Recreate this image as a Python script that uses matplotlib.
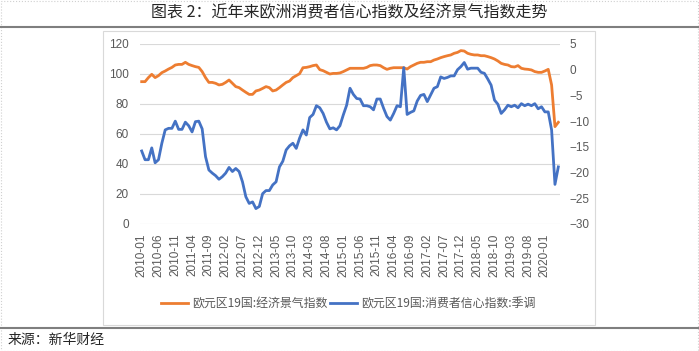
"""
Euro area economic sentiment vs consumer confidence, 2010-2020.
"""

import numpy as np
import pandas as pd
import matplotlib
matplotlib.use("Agg")
import matplotlib.pyplot as plt
from matplotlib.lines import Line2D
from matplotlib.patches import Rectangle

plt.rcParams['font.family'] = ['Noto Sans CJK SC', 'DejaVu Sans']

months = [str(p) for p in pd.period_range('2010-01', '2020-05', freq='M')]

# 欧元区19国:经济景气指数 (left axis)
esi = [94.9, 94.9, 97.6, 99.8, 97.6, 98.9, 100.9, 102.0, 103.3, 104.4,
       106.0, 106.4, 106.4, 107.8, 106.4, 105.6, 104.9, 104.4, 101.6, 97.6,
       94.4, 94.4, 93.8, 92.7, 93.1, 94.4, 96.0, 93.8, 91.6, 90.9,
       89.3, 87.8, 86.4, 86.4, 88.7, 89.3, 90.4, 91.6, 90.9, 88.7,
       89.3, 90.9, 92.7, 94.4, 95.3, 97.6, 98.9, 100.2, 104.2, 104.4,
       104.9, 105.6, 106.0, 102.9, 102.2, 101.1, 100.0, 100.4, 100.4, 100.7,
       101.6, 102.7, 103.8, 103.8, 103.8, 103.8, 103.8, 104.4, 105.6, 106.0,
       106.0, 105.6, 104.2, 103.1, 103.8, 104.2, 104.2, 104.2, 104.2, 103.3,
       104.9, 106.0, 107.1, 107.8, 107.8, 108.2, 108.2, 109.3, 110.0, 110.9,
       111.6, 112.2, 112.7, 113.8, 114.4, 115.6, 115.3, 113.8, 113.1, 112.7,
       112.7, 112.2, 112.2, 111.6, 110.9, 110.0, 108.7, 107.1, 106.4, 106.0,
       104.9, 104.7, 105.6, 103.8, 103.3, 103.1, 102.7, 101.6, 101.1, 101.1,
       102.0, 103.1, 92.7, 64.9, 67.8]

# 欧元区19国:消费者信心指数:季调 (right axis)
cci = [-15.8, -17.5, -17.5, -15.2, -18.1, -17.5, -14.3, -11.7, -11.4, -11.4,
       -10.0, -11.6, -11.6, -10.2, -10.9, -12.1, -10.1, -10.0, -11.5, -16.9,
       -19.5, -20.1, -20.6, -21.3, -20.8, -20.1, -19.0, -19.8, -19.2, -19.8,
       -21.8, -24.7, -26.0, -25.7, -27.0, -26.6, -24.1, -23.5, -23.5, -22.4,
       -21.8, -18.9, -17.8, -15.6, -14.8, -14.3, -15.3, -13.3, -11.7, -12.7,
       -9.3, -8.7, -7.0, -7.4, -8.5, -10.2, -11.5, -11.3, -11.7, -10.9,
       -8.8, -6.9, -3.6, -4.8, -5.6, -5.7, -7.0, -7.0, -7.2, -7.8,
       -5.7, -5.7, -7.5, -9.1, -9.8, -8.5, -7.0, -7.2, 0.4, -8.7,
       -8.3, -8.0, -6.1, -5.0, -4.8, -6.2, -4.9, -3.6, -3.3, -1.4,
       -1.7, -1.5, -1.2, -1.2, 0.0, 0.6, 1.4, 0.1, 0.3, 0.3,
       0.3, -0.5, -0.7, -1.8, -3.0, -5.9, -6.7, -8.5, -7.8, -6.9,
       -7.2, -6.9, -7.4, -6.6, -7.0, -6.7, -7.0, -6.6, -7.6, -7.2,
       -8.2, -8.2, -11.7, -22.3, -18.9]

orange = '#ED7D31'
blue = '#4472C4'
grey = '#595959'

fig = plt.figure(figsize=(6.99, 3.51), dpi=100)

# page decorations
fig.add_artist(Rectangle((0.001, 0.001), 0.997, 0.997, transform=fig.transFigure,
                         fill=False, edgecolor='#D0D0D0', lw=0.8, ls=':'))
fig.add_artist(Line2D([0, 1], [1 - 27 / 351] * 2, transform=fig.transFigure,
                      color='#7F7F7F', lw=1.5))
fig.add_artist(Line2D([0, 1], [1 - 328 / 351] * 2, transform=fig.transFigure,
                      color='#7F7F7F', lw=1.5))
fig.add_artist(Rectangle((103 / 699, 1 - 325 / 351), 492 / 699, 294 / 351,
                         transform=fig.transFigure, fill=False,
                         edgecolor='#D9D9D9', lw=0.8))
fig.text(0.5, 1 - 13 / 351, '图表 2：近年来欧洲消费者信心指数及经济景气指数走势',
         ha='center', va='center', fontsize=11.5, color='#262626', weight='medium')
fig.text(8 / 699, 1 - 340 / 351, '来源：新华财经', ha='left', va='center',
         fontsize=10, color='#262626')

ax = fig.add_axes([140 / 699, 1 - 224 / 351, 420 / 699, 180 / 351])
ax2 = ax.twinx()

x = np.arange(len(months))
l1, = ax.plot(x, esi, color=orange, lw=2.0, label='欧元区19国:经济景气指数')
l2, = ax2.plot(x, cci, color=blue, lw=2.0, label='欧元区19国:消费者信心指数:季调')

ax.set_xlim(-0.5, len(months) - 0.5)
ax.set_ylim(0, 120)
ax.set_yticks(range(0, 121, 20))
ax2.set_ylim(-30, 5)
ax2.set_yticks(range(-30, 6, 5))
ax.set_xticks(x[::5])
ax.set_xticklabels(months[::5], rotation=90)

ax.grid(axis='y', color='#D9D9D9', lw=0.8)
ax.set_axisbelow(True)
for a in (ax, ax2):
    for s in a.spines.values():
        s.set_visible(False)
    a.tick_params(length=0, labelsize=8.5, labelcolor=grey)
    for lab in a.get_xticklabels() + a.get_yticklabels():
        lab.set_family(['Liberation Sans', 'DejaVu Sans'])
ax.tick_params(axis='y', pad=8)
ax2.tick_params(axis='y', pad=7)
ax.tick_params(axis='x', pad=7)

fig.legend(handles=[l1, l2], loc='center', bbox_to_anchor=(348 / 699, 1 - 304 / 351),
           ncol=2, frameon=False, fontsize=8.6, labelcolor=grey,
           handlelength=2.3, handletextpad=0.3, columnspacing=0.2)

fig.savefig('out.png', dpi=100)
